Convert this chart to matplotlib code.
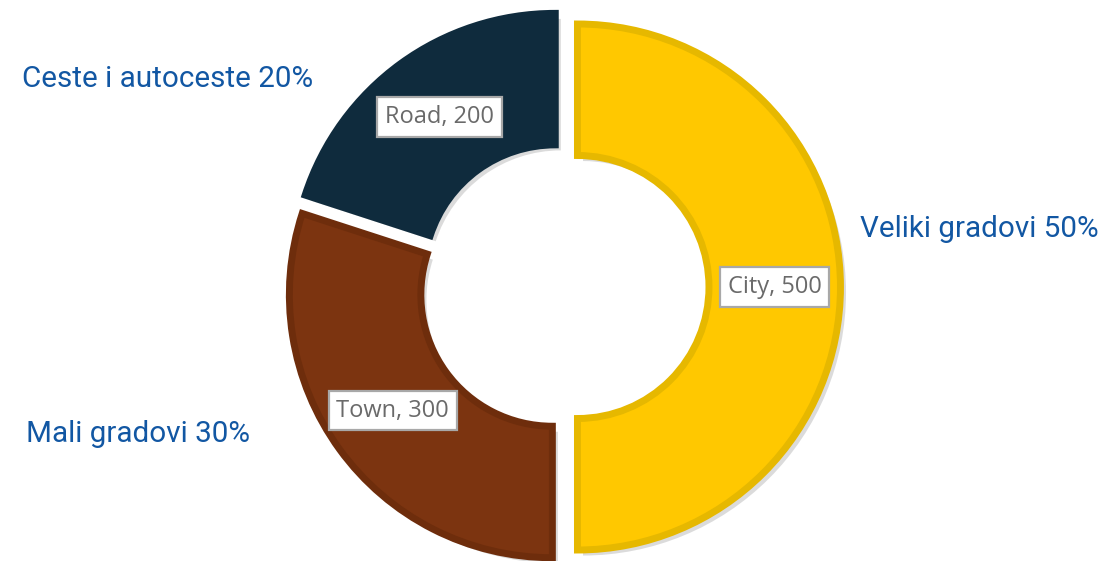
import matplotlib
matplotlib.use("Agg")
import matplotlib.pyplot as plt
import matplotlib.patheffects as pe

# ---- data ----
categories = ["City", "Town", "Road"]
values = [500, 300, 200]
outer_names = ["Veliki gradovi", "Mali gradovi", "Ceste i autoceste"]

fill_colors = ["#FFC800", "#7C3410", "#0F2B3D"]
edge_colors = ["#E6B800", "#6E2D0C", "#0F2B3D"]
explode = [0.055, 0.05, 0.05]

W, H, DPI = 1105, 561, 100
fig = plt.figure(figsize=(W / DPI, H / DPI), dpi=DPI)
ax = fig.add_axes([0, 0, 1, 1])

label_iter = iter([f"{c}, {v}" for c, v in zip(categories, values)])

wedges, texts, autotexts = ax.pie(
    values,
    explode=explode,
    colors=fill_colors,
    startangle=90,
    counterclock=False,
    radius=1.0,
    autopct=lambda p: next(label_iter),
    pctdistance=0.75,
    wedgeprops=dict(width=0.5, linewidth=5, antialiased=True),
)

R_PX = 263.0
cx_px, cy_px = 563.0, 287.0
ax.set_xlim(-cx_px / R_PX, (W - cx_px) / R_PX)
ax.set_ylim(-(H - cy_px) / R_PX, cy_px / R_PX)
ax.set_aspect("equal")
ax.axis("off")

for w, ec in zip(wedges, edge_colors):
    w.set_edgecolor(ec)
    w.set_path_effects([
        pe.SimplePatchShadow(offset=(4, -4), shadow_rgbFace="#9a9a9a", alpha=0.35),
        pe.Normal(),
    ])

for t in autotexts:
    t.set_fontfamily("Open Sans")
    t.set_fontsize(17)
    t.set_color("#6A6A6A")
    t.set_bbox(dict(boxstyle="square,pad=0.33", facecolor="white",
                    edgecolor="#A8A8A8", linewidth=1.6))

total = sum(values)
blue = "#1257A3"
positions = {
    "Veliki gradovi": (860 / W, 1 - 229 / H),
    "Mali gradovi": (26 / W, 1 - 434 / H),
    "Ceste i autoceste": (22 / W, 1 - 79 / H),
}
for name, v in zip(outer_names, values):
    x, y = positions[name]
    fig.text(x, y, f"{name} {round(v / total * 100)}%", ha="left", va="center",
             fontsize=21.3, color=blue, fontfamily="Roboto")

fig.savefig("out.png", dpi=DPI)
